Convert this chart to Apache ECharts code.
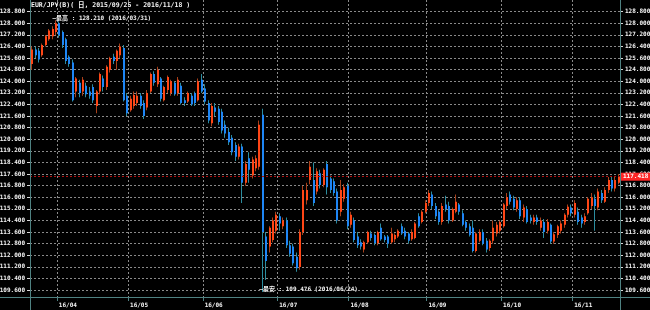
<!DOCTYPE html>
<html><head><meta charset="utf-8">
<script src="https://cdn.jsdelivr.net/npm/echarts@6/dist/echarts.min.js"></script>
<style>html,body{margin:0;padding:0;background:#000;}#c{width:650px;height:310px;}</style>
</head><body><div id="c"></div>
<script>
const dates = [
'2016/03/22','2016/03/23','2016/03/24','2016/03/25','2016/03/28','2016/03/29','2016/03/30','2016/03/31',
'2016/04/01','2016/04/04','2016/04/05','2016/04/06','2016/04/07','2016/04/08','2016/04/11','2016/04/12','2016/04/13','2016/04/14','2016/04/15','2016/04/18','2016/04/19','2016/04/20','2016/04/21','2016/04/22','2016/04/25','2016/04/26','2016/04/27','2016/04/28','2016/04/29',
'2016/05/02','2016/05/03','2016/05/04','2016/05/05','2016/05/06','2016/05/09','2016/05/10','2016/05/11','2016/05/12','2016/05/13','2016/05/16','2016/05/17','2016/05/18','2016/05/19','2016/05/20','2016/05/23','2016/05/24','2016/05/25','2016/05/26','2016/05/27','2016/05/30','2016/05/31',
'2016/06/01','2016/06/02','2016/06/03','2016/06/06','2016/06/07','2016/06/08','2016/06/09','2016/06/10','2016/06/13','2016/06/14','2016/06/15','2016/06/16','2016/06/17','2016/06/20','2016/06/21','2016/06/22','2016/06/23','2016/06/24','2016/06/27','2016/06/28','2016/06/29','2016/06/30',
'2016/07/01','2016/07/04','2016/07/05','2016/07/06','2016/07/07','2016/07/08','2016/07/11','2016/07/12','2016/07/13','2016/07/14','2016/07/15','2016/07/18','2016/07/19','2016/07/20','2016/07/21','2016/07/22','2016/07/25','2016/07/26','2016/07/27','2016/07/28','2016/07/29',
'2016/08/01','2016/08/02','2016/08/03','2016/08/04','2016/08/05','2016/08/08','2016/08/09','2016/08/10','2016/08/11','2016/08/12','2016/08/15','2016/08/16','2016/08/17','2016/08/18','2016/08/19','2016/08/22','2016/08/23','2016/08/24','2016/08/25','2016/08/26','2016/08/29','2016/08/30','2016/08/31',
'2016/09/01','2016/09/02','2016/09/05','2016/09/06','2016/09/07','2016/09/08','2016/09/09','2016/09/12','2016/09/13','2016/09/14','2016/09/15','2016/09/16','2016/09/19','2016/09/20','2016/09/21','2016/09/22','2016/09/23','2016/09/26','2016/09/27','2016/09/28','2016/09/29','2016/09/30',
'2016/10/03','2016/10/04','2016/10/05','2016/10/06','2016/10/07','2016/10/10','2016/10/11','2016/10/12','2016/10/13','2016/10/14','2016/10/17','2016/10/18','2016/10/19','2016/10/20','2016/10/21','2016/10/24','2016/10/25','2016/10/26','2016/10/27','2016/10/28','2016/10/31',
'2016/11/01','2016/11/02','2016/11/03','2016/11/04','2016/11/07','2016/11/08','2016/11/09','2016/11/10','2016/11/11','2016/11/14','2016/11/15','2016/11/16','2016/11/17','2016/11/18'
];
const opens = [
125.2,126.2,126.1,125.8,126.5,126.9,127.1,127.4,128.0,127.4,
126.9,125.7,125.3,123.3,123.9,123.3,123.7,123.3,123.6,122.3,
123.3,124.2,123.6,124.8,125.7,125.4,125.8,126.3,123.0,122.0,
122.3,122.5,123.0,122.5,122.2,123.3,124.5,123.8,124.2,122.7,
123.4,123.2,123.9,123.2,123.7,122.7,122.6,123.0,123.2,122.7,
124.1,123.5,122.5,121.1,122.2,122.1,121.9,121.0,120.5,120.1,
119.6,118.8,119.5,117.0,118.7,117.5,118.0,118.1,121.7,113.3,
112.6,113.05,113.7,114.7,114.0,114.4,112.7,112.6,111.9,111.2,
113.6,115.8,117.2,117.2,116.4,117.65,116.85,118.3,117.3,117.1,
116.4,115.0,115.9,116.8,114.1,114.4,113.3,112.9,112.4,112.9,
113.5,113.4,112.85,113.9,113.3,113.3,112.9,113.1,113.3,114.0,
113.7,113.5,113.1,113.2,114.7,114.3,115.0,115.6,116.2,115.4,
115.0,114.3,115.5,115.4,114.4,115.0,115.5,114.9,114.3,114.0,
113.9,112.3,113.0,113.6,113.0,112.5,113.0,113.5,113.7,114.0,
115.4,116.2,115.9,115.2,115.8,114.6,115.2,114.6,114.3,114.6,
113.9,114.3,113.7,114.1,112.95,113.4,113.7,114.1,114.8,115.3,
114.8,115.0,114.6,114.3,114.9,115.4,115.9,115.3,116.3,115.7,
116.5,117.2,116.6,117.0
];
const closes = [
126.2,125.8,125.5,126.5,127.1,127.5,127.6,128.0,127.2,126.5,
125.4,125.2,122.7,124.2,123.2,124.1,123.1,123.0,122.7,123.3,
124.5,123.6,125.0,125.6,125.4,126.1,126.4,122.7,121.8,122.8,
123.05,123.0,122.3,121.6,123.2,124.5,123.9,124.8,122.8,123.6,
124.3,124.0,123.1,124.1,122.5,122.5,123.2,122.4,122.5,124.0,
123.3,122.6,121.3,122.3,121.9,121.2,120.6,120.4,119.8,119.1,
118.8,119.5,117.0,118.3,117.9,118.6,118.7,121.0,113.6,111.6,
113.9,114.4,114.8,114.2,114.4,112.7,112.1,111.45,111.1,113.6,
116.5,116.5,118.1,115.6,117.8,116.85,117.9,116.7,116.5,116.3,
114.4,116.5,116.7,114.0,114.8,113.05,112.7,112.6,112.9,113.6,
113.2,112.85,113.6,113.1,113.05,112.8,113.5,113.4,113.7,113.5,
113.3,113.0,113.6,114.2,114.0,115.0,115.6,116.3,115.4,114.7,
114.3,115.4,115.2,114.4,115.2,115.7,115.0,114.1,113.9,113.4,
112.3,113.5,113.6,112.8,112.4,113.0,113.9,114.1,114.3,115.5,
116.0,115.7,115.3,115.8,114.7,115.3,114.3,114.4,114.6,114.3,
114.4,113.6,114.3,112.95,113.45,114.0,114.2,114.8,115.35,114.9,
115.6,114.3,114.2,114.7,115.9,116.0,115.4,116.4,115.8,116.5,
117.2,116.6,117.2,117.418
];
const lows = [
124.8,125.6,125.3,125.7,126.4,126.8,126.9,127.2,127.0,126.3,
125.2,125.0,122.6,122.9,122.9,123.0,122.9,122.8,122.5,121.8,
123.1,123.3,123.4,124.6,125.2,124.8,125.6,122.6,121.6,121.9,
122.1,122.3,122.1,121.4,122.0,123.2,123.7,123.6,122.6,122.6,
123.2,123.0,123.0,123.0,122.4,122.3,122.5,122.3,122.3,122.6,
123.2,122.4,121.1,120.9,121.6,121.0,120.4,120.1,119.6,118.9,
118.5,118.6,115.6,116.8,117.0,117.3,117.8,117.9,109.476,110.3,
112.2,112.9,113.5,113.7,113.8,112.5,111.9,111.3,110.87,111.0,
113.4,115.5,116.9,115.4,116.2,116.6,116.7,116.2,116.3,116.1,
114.2,114.7,115.7,113.8,113.9,112.9,112.5,112.4,112.2,112.8,
113.0,112.7,112.7,113.0,112.9,112.5,112.8,112.9,113.2,113.4,
113.1,112.8,113.0,113.1,113.9,114.2,114.9,115.4,115.2,114.5,
114.1,114.1,115.0,114.2,114.3,114.9,114.8,114.0,113.7,113.3,
112.2,112.2,112.9,112.7,112.2,112.3,112.8,113.3,113.5,113.9,
115.2,115.5,115.1,115.0,114.5,114.3,114.2,114.2,114.1,114.1,
113.7,113.2,113.5,112.8,112.8,113.2,113.5,113.9,114.6,114.7,
114.6,114.1,113.9,114.1,114.8,115.2,113.7,115.1,115.6,115.6,
116.3,116.4,116.4,116.9
];
const highs = [
126.4,126.4,126.3,126.6,127.2,127.6,127.8,128.21,128.15,127.5,
127.0,125.8,125.5,124.3,124.1,124.3,123.9,123.6,123.8,123.4,
124.6,124.4,125.1,125.7,125.9,126.2,126.6,126.5,123.2,123.0,
123.3,123.3,123.2,122.7,123.4,124.6,124.7,125.0,124.3,123.7,
124.4,124.1,124.0,124.3,123.9,122.9,123.3,123.2,123.3,124.2,
124.5,123.8,122.7,122.5,122.5,122.3,122.1,121.3,120.8,120.3,
119.8,119.7,119.7,118.5,119.1,118.8,118.9,121.3,122.1,113.6,
114.0,114.6,115.0,114.9,114.6,114.6,113.0,112.8,112.2,113.8,
116.8,117.0,118.5,118.4,118.0,117.9,118.0,118.5,117.5,117.3,
116.6,117.2,116.9,117.0,115.0,114.6,113.6,113.1,113.0,113.7,
113.7,113.5,113.7,114.2,113.4,113.4,113.9,113.5,113.8,114.2,
113.9,113.6,113.8,114.3,114.9,115.1,115.8,116.5,116.4,115.6,
115.1,115.6,116.1,115.7,115.3,116.2,115.6,115.1,114.4,114.2,
114.4,113.6,113.8,113.8,113.2,113.1,114.4,114.3,114.4,115.6,
116.3,116.4,116.1,116.0,116.0,115.5,115.4,114.8,114.8,114.8,
114.6,114.5,114.5,114.2,113.6,114.1,114.4,114.9,115.5,115.5,
115.8,115.3,114.8,114.9,116.0,116.3,116.2,116.6,116.5,116.7,
117.4,117.4,117.4,117.6
];
const yTicks = [109.6,110.4,111.2,112.0,112.8,113.6,114.4,115.2,116.0,116.8,117.6,118.4,119.2,120.0,120.8,121.6,122.4,123.2,124.0,124.8,125.6,126.4,127.2,128.0,128.8];
const yMin = 109.124, yMax = 129.607;
const monthStartIdx = [8,29,51,73,94,117,139,160];
const monthLabels = ['16/04','16/05','16/06','16/07','16/08','16/09','16/10','16/11'];
const lastPrice = 117.418;
const highMark = {idx:7, value:128.21, text:'—最高 : 128.210 (2016/03/31)'};
const lowMark = {idx:68, value:109.476, text:'—最安 : 109.476 (2016/06/24)'};
const titleText = 'EUR/JPY(B)( 日, 2015/09/25 - 2016/11/18 )';

const FONT = '"DejaVu Sans Mono", "Noto Sans CJK JP", monospace';
const TXT = '#f4f4f4';
const GRIDC = '#8a8a8a';
const FRAME = '#4f8282';
const UP = '#ff4616', DN = '#1e86f5', WUP = '#a8401a', WDN = '#2b8c9e';

const monthSet = new Set(monthStartIdx);
const labelMap = {};
monthStartIdx.forEach((k, j) => labelMap[k] = monthLabels[j]);

const candleData = dates.map((d, i) => [i, opens[i], closes[i], lows[i], highs[i]]);

function renderItem(params, api) {
  const i = api.value(0);
  const o = api.value(1), c = api.value(2), l = api.value(3), h = api.value(4);
  const po = api.coord([i, o]), pc = api.coord([i, c]);
  const pl = api.coord([i, l]), ph = api.coord([i, h]);
  const cx = Math.floor(po[0]);
  const up = c >= o;
  const top = Math.min(po[1], pc[1]), bot = Math.max(po[1], pc[1]);
  return {
    type: 'group',
    children: [
      {type: 'rect', shape: {x: cx, y: ph[1], width: 1, height: Math.max(1, pl[1] - ph[1])}, style: {fill: up ? WUP : WDN}},
      {type: 'rect', shape: {x: cx, y: top, width: 2, height: Math.max(1, bot - top)}, style: {fill: up ? UP : DN}}
    ]
  };
}

const yAxisBase = (pos, split) => ({
  type: 'value', position: pos, min: yMin, max: yMax, scale: true,
  axisLine: {show: false},
  axisTick: {show: true, customValues: yTicks, length: 3, lineStyle: {color: '#d8d8d8'}},
  axisLabel: {show: true, customValues: yTicks, formatter: v => Number(v).toFixed(3), color: TXT, fontSize: 6, fontWeight: 'bold', fontFamily: FONT, margin: 5},
  splitLine: {show: split, lineStyle: {color: GRIDC, type: [2, 2], width: 1}}
});

const chart = echarts.init(document.getElementById('c'), null, {renderer: 'canvas'});
chart.setOption({
  backgroundColor: '#000',
  animation: false,
  textStyle: {fontFamily: FONT},
  title: {text: titleText, left: 31, top: 2, padding: 0,
    textStyle: {color: TXT, fontSize: 6.5, fontWeight: 'bold', fontFamily: FONT}},
  grid: {left: 30, right: 30, top: 0, bottom: 13, outerBoundsMode: 'none', containLabel: false},
  xAxis: {
    type: 'category', data: dates, boundaryGap: true,
    axisLine: {show: false},
    axisTick: {show: true, interval: (i) => monthSet.has(i), length: 4, lineStyle: {color: FRAME}},
    axisLabel: {show: true, interval: (i) => monthSet.has(i), formatter: (v, i) => labelMap[i] || '',
      align: 'left', color: TXT, fontSize: 6, fontWeight: 'bold', fontFamily: FONT, margin: 5},
    splitLine: {show: true, interval: (i) => monthSet.has(i), lineStyle: {color: GRIDC, type: [2, 2], width: 1}}
  },
  yAxis: [yAxisBase('left', true), yAxisBase('right', false)],
  series: [{
    type: 'custom', renderItem: renderItem, data: candleData,
    encode: {x: 0, y: [1, 2, 3, 4]}, z: 3,
    markLine: {
      silent: true, symbol: ['none', 'none'], animation: false,
      lineStyle: {color: '#b01212', type: [2, 2], width: 1},
      label: {show: true, position: 'end', distance: 1, formatter: lastPrice.toFixed(3), color: '#fff',
        backgroundColor: '#ff2626', padding: [1, 2, 1, 2], fontSize: 6, fontWeight: 'bold', fontFamily: FONT},
      data: [{yAxis: lastPrice}]
    },
    markPoint: {
      silent: true, symbol: 'circle', symbolSize: 0, animation: false,
      label: {show: true, position: 'right', distance: -3, color: TXT, fontSize: 6, fontWeight: 'bold', fontFamily: FONT},
      data: [
        {coord: [dates[highMark.idx], highMark.value], label: {formatter: highMark.text, offset: [0, -2]}},
        {coord: [dates[lowMark.idx], lowMark.value], label: {formatter: lowMark.text, offset: [0, -2]}}
      ]
    }
  }],
  graphic: [
    {type: 'line', z: 50, silent: true, shape: {x1: 30.5, y1: 0, x2: 30.5, y2: 310}, style: {stroke: FRAME, lineWidth: 1}},
    {type: 'line', z: 50, silent: true, shape: {x1: 620.5, y1: 0, x2: 620.5, y2: 310}, style: {stroke: FRAME, lineWidth: 1}},
    {type: 'line', z: 50, silent: true, shape: {x1: 0, y1: 297.5, x2: 650, y2: 297.5}, style: {stroke: FRAME, lineWidth: 1}}
  ]
});
</script></body></html>
